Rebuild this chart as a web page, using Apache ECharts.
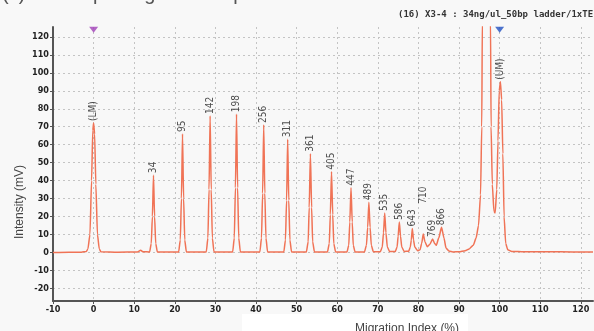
<!DOCTYPE html>
<html>
<head>
<meta charset="utf-8">
<script src="https://cdn.jsdelivr.net/npm/echarts@6/dist/echarts.min.js"></script>
<style>html,body{margin:0;padding:0;background:#f8f8f8;}#c{width:594px;height:331px;}</style>
</head>
<body>
<div id="c"></div>
<script>
// Trace points [migration index %, intensity mV]
const trace = [
  [-10,0],[-6,0.2],[-3,0.2],[-1.8,0.5],
  [-1.4,2],[-0.9,10],[-0.5,40],[-0.2,68],[0,72],[0.25,66],[0.55,38],[0.95,10],[1.4,2],[1.8,0.4],
  [6,0.2],[10.8,0.3],[11.6,1.2],[12.2,0.4],[13.8,0.3],
  [14.2,5],[14.48,20],[14.75,43],[15.02,20],[15.3,5],[15.7,0.3],
  [20.95,0.3],[21.35,7],[21.63,30],[21.9,66],[22.17,30],[22.45,7],[22.85,0.3],
  [27.75,0.3],[28.15,8],[28.43,35],[28.7,76],[28.97,35],[29.25,8],[29.65,0.3],
  [34.25,0.3],[34.65,8],[34.93,36],[35.2,77],[35.47,36],[35.75,8],[36.15,0.3],
  [40.95,0.3],[41.35,8],[41.63,33],[41.9,71],[42.17,33],[42.45,8],[42.85,0.3],
  [46.85,0.3],[47.25,7],[47.53,29],[47.8,63],[48.07,29],[48.35,7],[48.75,0.3],
  [52.4,0.3],[52.85,6],[53.1,25],[53.4,55],[53.7,25],[53.95,6],[54.4,0.3],
  [57.6,0.3],[58.05,5],[58.3,21],[58.6,45],[58.9,21],[59.15,5],[59.6,0.3],
  [62.4,0.3],[62.85,4],[63.1,17],[63.4,36],[63.7,17],[63.95,4],[64.4,0.3],
  [66.7,0.3],[67.2,4],[67.5,14],[67.8,28],[68.1,14],[68.4,4],[68.9,0.4],
  [70.6,0.4],[71.1,3],[71.4,11],[71.7,22],[72.0,11],[72.35,3],[72.9,0.5],
  [74.3,0.5],[74.75,3],[75.0,9],[75.3,17],[75.6,9],[75.9,3],[76.5,0.6],
  [77.6,0.7],[78.0,3],[78.25,7],[78.5,13.4],[78.8,7],[79.1,3],[79.8,1],
  [80.4,1.5],[80.8,5],[81.2,10.3],[81.6,6],[82.2,3.2],
  [82.8,4.5],[83.5,7.5],[84.0,5],[84.4,4],
  [85.0,8],[85.7,14],[86.3,8],[86.8,2.5],[87.5,0.8],
  [88.5,0.3],[90,0.4],[91.5,1],[92.5,2],[93.5,4],[94.2,8],[94.8,15],[95.3,32],[95.6,70],[95.75,130],
  [97.75,130],[97.9,70],[98.2,38],[98.6,23],[98.9,22],[99.3,35],[99.6,62],[99.9,90],[100.2,95],
  [100.5,85],[100.8,55],[101.1,20],[101.5,5],[102,1.5],[103,0.6],[106,0.4],[112,0.4],[118,0.3],[123,0.3]
];
// Peak annotations
const peakNames = ['(LM)','34','95','142','198','256','311','361','405','447','489','535','586','643','710','769','866','(UM)'];
const peakX     = [0, 14.75, 21.9, 28.7, 35.2, 41.9, 47.8, 53.4, 58.6, 63.4, 67.8, 71.7, 75.3, 78.5, 81.2, 83.5, 85.7, 100.2];
const peakY     = [72, 43, 66, 76, 77, 71, 63, 55, 45, 36, 28, 22, 17, 13.4, 26, 7.5, 14, 95];
// Axis ticks
const xTicks = [-10,0,10,20,30,40,50,60,70,80,90,100,110,120];
const yTicks = [-20,-10,0,10,20,30,40,50,60,70,80,90,100,110,120];
// Top markers
const lmMarker = [[0,124]];
const umMarker = [[100,124]];

const chart = echarts.init(document.getElementById('c'));
const tickFont = {fontFamily:'DejaVu Sans Condensed', fontWeight:'bold', fontSize:9, color:'#222'};
const gridStyle = {color:'#c4c4c4', width:1, type:[2,3]};

chart.setOption({
  backgroundColor:'#f8f8f8',
  animation:false,
  grid:{left:53, right:1, top:27, bottom:30, containLabel:false},
  xAxis:{
    type:'value', min:-10, max:123,
    axisLine:{show:true, onZero:false, lineStyle:{color:'#555', width:2}},
    axisTick:{show:true, customValues:xTicks, length:3, lineStyle:{color:'#555'}},
    axisLabel:Object.assign({customValues:xTicks, margin:4}, tickFont),
    splitLine:{show:true, customValues:xTicks, lineStyle:gridStyle}
  },
  yAxis:{
    type:'value', min:-27, max:125.5,
    axisLine:{show:true, onZero:false, lineStyle:{color:'#555', width:2}},
    axisTick:{show:true, customValues:yTicks, length:3, lineStyle:{color:'#555'}},
    axisLabel:Object.assign({customValues:yTicks, margin:4}, tickFont),
    splitLine:{show:true, customValues:yTicks, lineStyle:gridStyle}
  },
  graphic:[
    {type:'text', left:398, top:10, style:{text:'(16) X3-4 : 34ng/ul_50bp ladder/1xTE-buffer', font:'bold 9px "DejaVu Sans Mono"', fill:'#333'}},
    {type:'text', left:14, top:165, rotation:Math.PI/2, style:{text:'Intensity (mV)', font:'12px "Liberation Sans"', fill:'#444', align:'center', verticalAlign:'middle'}},
    {type:'rect', left:242, top:314, shape:{width:226, height:17}, style:{fill:'#ffffff'}},
    {type:'text', left:355, top:323, style:{text:'Migration Index (%)', font:'12px "Liberation Sans"', fill:'#444', align:'center', verticalAlign:'middle'}},
    {type:'text', left:2, top:-16, style:{text:'(c) Electropherogram sample', font:'20px "Liberation Sans"', fill:'#555'}}
  ],
  series:[
    {
      type:'line', data:trace, showSymbol:false, smooth:0.2, smoothMonotone:'x',
      lineStyle:{color:'#f07356', width:1.5}, clip:true, z:3
    },
    {
      type:'scatter', symbolSize:0, z:4,
      data:peakX.map((x,i)=>({value:[x, peakY[i]], name:peakNames[i]})),
      label:{show:true, position:'top', distance:2, rotate:90, align:'left', verticalAlign:'middle',
        formatter:p=>p.name, fontFamily:'DejaVu Sans Condensed', fontSize:10, color:'#222'}
    },
    {type:'scatter', data:lmMarker, symbol:'triangle', symbolRotate:180, symbolSize:[9,6], itemStyle:{color:'#a040b8'}, z:5},
    {type:'scatter', data:umMarker, symbol:'triangle', symbolRotate:180, symbolSize:[9,6], itemStyle:{color:'#2050c0'}, z:5}
  ]
});
</script>
</body>
</html>
